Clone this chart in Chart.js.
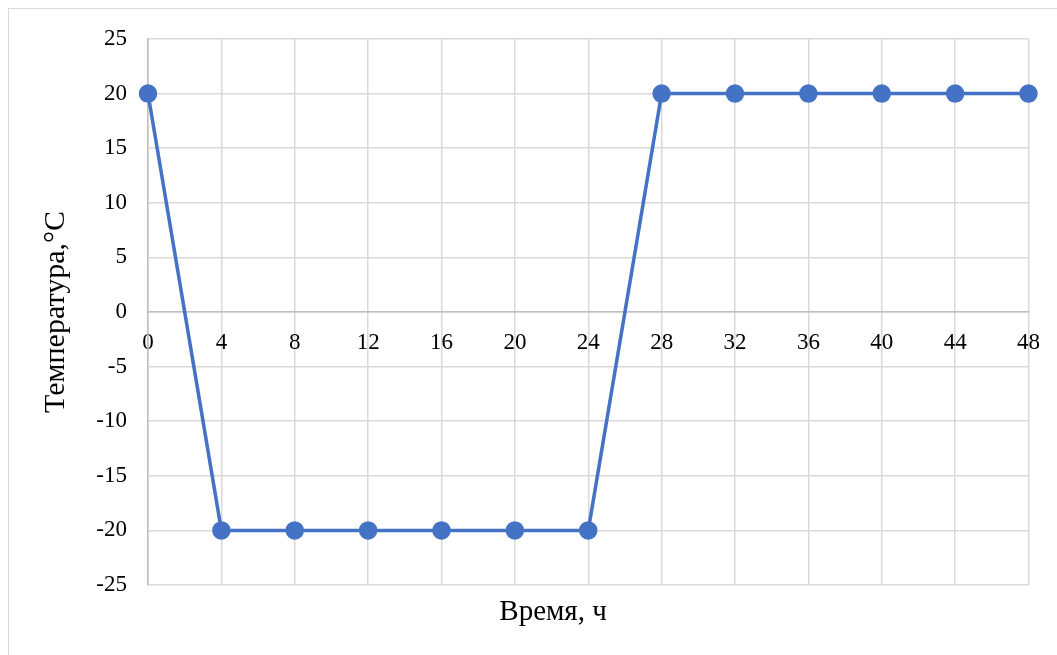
<!DOCTYPE html>
<html>
<head>
<meta charset="utf-8">
<script src="https://cdn.jsdelivr.net/npm/chart.js@4/dist/chart.umd.min.js"></script>
<style>
    html, body { margin: 0; padding: 0; background: #fff; overflow: hidden; }
    #frame {
        position: absolute; left: 8px; top: 8px; width: 1200px; height: 800px;
        border: 1.5px solid #d9d9d9;
    }
    #wrap { position: absolute; left: 0; top: 0; width: 1057px; height: 655px; }
</style>
</head>
<body>
<div id="frame"></div>
<div id="wrap"><canvas id="chart"></canvas></div>
<script>
// hours and temperature readings
const hours = [0, 4, 8, 12, 16, 20, 24, 28, 32, 36, 40, 44, 48];
const temps = [20, -20, -20, -20, -20, -20, -20, 20, 20, 20, 20, 20, 20];
const xTitle = "Время, ч";
const yTitle = "Температура,°C";

const serif = "'Liberation Serif', 'Times New Roman', serif";
const points = hours.map((h, i) => ({ x: h, y: temps[i] }));

// x axis title sits under the plot, a bit left of centre (like the Excel original)
const xTitlePlugin = {
    id: 'xTitle',
    afterDraw(chart) {
        const { ctx, chartArea } = chart;
        ctx.save();
        ctx.font = `29px ${serif}`;
        ctx.fillStyle = '#000';
        ctx.textAlign = 'center';
        ctx.textBaseline = 'alphabetic';
        ctx.fillText(xTitle, chartArea.left + chartArea.width * 0.46, chartArea.bottom + 35);
        ctx.restore();
    }
};

const ctx = document.getElementById('chart').getContext('2d');
new Chart(ctx, {
    type: 'line',
    data: {
        datasets: [{
            data: points,
            borderColor: '#4472C4',
            backgroundColor: '#4472C4',
            borderWidth: 3.5,
            pointRadius: 7.5,
            pointHoverRadius: 7.5,
            tension: 0,
            clip: false
        }]
    },
    options: {
        responsive: true,
        maintainAspectRatio: false,
        animation: false,
        layout: { padding: { left: 0, top: 39, right: 23, bottom: 70 } },
        plugins: {
            legend: { display: false },
            tooltip: { enabled: false }
        },
        scales: {
            x: {
                type: 'linear',
                position: { y: 0 },
                min: 0,
                max: 48,
                ticks: {
                    stepSize: 4,
                    color: '#000',
                    padding: 17,
                    maxRotation: 0,
                    font: { family: serif, size: 23 }
                },
                grid: { color: '#d9d9d9', lineWidth: 1.5, drawTicks: false },
                border: { color: '#bfbfbf', width: 1.5 }
            },
            y: {
                min: -25,
                max: 25,
                afterFit: scale => { scale.width = 148; },
                ticks: {
                    stepSize: 5,
                    color: '#000',
                    padding: 21,
                    font: { family: serif, size: 23 }
                },
                grid: { color: '#d9d9d9', lineWidth: 1.5, drawTicks: false },
                border: { color: '#bfbfbf', width: 1.5 },
                title: {
                    display: true,
                    text: yTitle,
                    color: '#000',
                    font: { family: serif, size: 30 },
                    padding: { top: 38, bottom: 0 }
                }
            }
        }
    },
    plugins: [xTitlePlugin]
});
</script>
</body>
</html>
